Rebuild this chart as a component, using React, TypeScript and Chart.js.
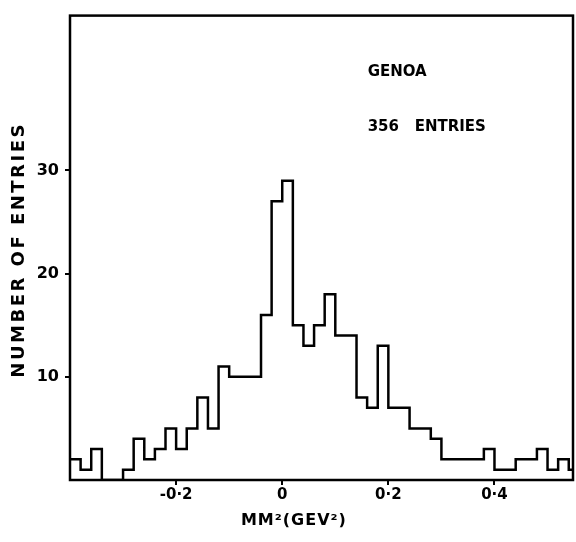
import React, { useEffect, useRef } from 'react';
import { Chart, registerables } from 'chart.js';

Chart.register(...registerables);

// Histogram: bins of width 0.02 starting at -0.40 (MM^2 in GeV^2)
const binStart = -0.4;
const binWidth = 0.02;
const counts = [
  2, 1, 3, 0, 0, 1, 4, 2, 3, 5,
  3, 5, 8, 5, 11, 10, 10, 10, 16, 27,
  29, 15, 13, 15, 18, 14, 14, 8, 7, 13,
  7, 7, 5, 5, 4, 2, 2, 2, 2, 3,
  1, 1, 2, 2, 3, 1, 2, 1,
];
const xTicks = [-0.2, 0, 0.2, 0.4];
const xTickLabels = ['-0·2', '0', '0·2', '0·4'];
const yTicks = [10, 20, 30];
const xMin = -0.4;
const xMax = 0.548;
const yMin = 0;
const yMax = 45;
const xTitle = 'MM²(GEV²)';
const yTitle = 'NUMBER OF ENTRIES';
const notes = [
  { text: 'GENOA', x: 0.161, y: 39.5 },
  { text: '356   ENTRIES', x: 0.161, y: 34.2 },
];

const FONT = 'DejaVu Sans';

const framePlugin = {
  id: 'frameAndNotes',
  afterDatasetsDraw(chart: any) {
    const { ctx, chartArea: a, scales } = chart;
    ctx.save();
    ctx.strokeStyle = '#000';
    ctx.lineWidth = 2.5;
    ctx.strokeRect(a.left, a.top, a.right - a.left, a.bottom - a.top);
    ctx.font = `bold 15px "${FONT}"`;
    ctx.fillStyle = '#000';
    ctx.textAlign = 'left';
    ctx.textBaseline = 'middle';
    notes.forEach((n) => {
      ctx.fillText(n.text, scales.x.getPixelForValue(n.x), scales.y.getPixelForValue(n.y));
    });
    // axis titles
    ctx.textAlign = 'center';
    (ctx as any).letterSpacing = '1px';
    ctx.font = `bold 16px "${FONT}"`;
    ctx.fillText(xTitle, scales.x.getPixelForValue(0.022), 521);
    (ctx as any).letterSpacing = '2.5px';
    ctx.font = `bold 18px "${FONT}"`;
    ctx.translate(19, scales.y.getPixelForValue(22.3));
    ctx.rotate(-Math.PI / 2);
    ctx.fillText(yTitle, 0, 0);
    ctx.restore();
  },
};

export default function App() {
  const ref = useRef<HTMLCanvasElement | null>(null);

  useEffect(() => {
    if (!ref.current) return;
    const points = counts.map((c, i) => ({ x: binStart + i * binWidth, y: c }));
    points.push({ x: binStart + counts.length * binWidth, y: counts[counts.length - 1] });

    const chart = new Chart(ref.current, {
      type: 'line',
      data: {
        datasets: [
          {
            data: points,
            stepped: true,
            borderColor: '#000',
            borderWidth: 2.5,
            pointRadius: 0,
            fill: false,
          },
        ],
      },
      options: {
        responsive: false,
        animation: false,
        devicePixelRatio: 1,
        layout: { padding: { top: 10, right: 3, left: 0, bottom: 0 } },
        plugins: { legend: { display: false }, tooltip: { enabled: false } },
        scales: {
          x: {
            type: 'linear',
            min: xMin,
            max: xMax,
            afterBuildTicks: (s: any) => {
              s.ticks = xTicks.map((v) => ({ value: v }));
            },
            afterFit: (s: any) => {
              s.height = 62;
            },
            grid: { drawOnChartArea: false, drawTicks: true, tickLength: 5, color: '#000', lineWidth: 2 },
            border: { display: false },
            ticks: {
              autoSkip: false,
              maxRotation: 0,
              padding: 1,
              color: '#000',
              font: { family: FONT, weight: 'bold', size: 15 },
              callback: (_v: any, i: number) => xTickLabels[i],
            },
            title: { display: false },
          },
          y: {
            type: 'linear',
            min: yMin,
            max: yMax,
            afterBuildTicks: (s: any) => {
              s.ticks = yTicks.map((v) => ({ value: v }));
            },
            afterFit: (s: any) => {
              s.width = 70;
            },
            grid: { drawOnChartArea: false, drawTicks: true, tickLength: 5, color: '#000', lineWidth: 2 },
            border: { display: false },
            ticks: {
              padding: 6,
              color: '#000',
              font: { family: FONT, weight: 'bold', size: 16 },
              callback: (v: any) => String(v),
            },
            title: { display: false },
          },
        },
      },
      plugins: [framePlugin],
    });
    return () => chart.destroy();
  }, []);

  return (
    <div style={{ position: 'absolute', left: 0, top: 0, width: 576, height: 542, background: '#fff' }}>
      <canvas ref={ref} width={576} height={542} style={{ display: 'block' }} />
    </div>
  );
}
